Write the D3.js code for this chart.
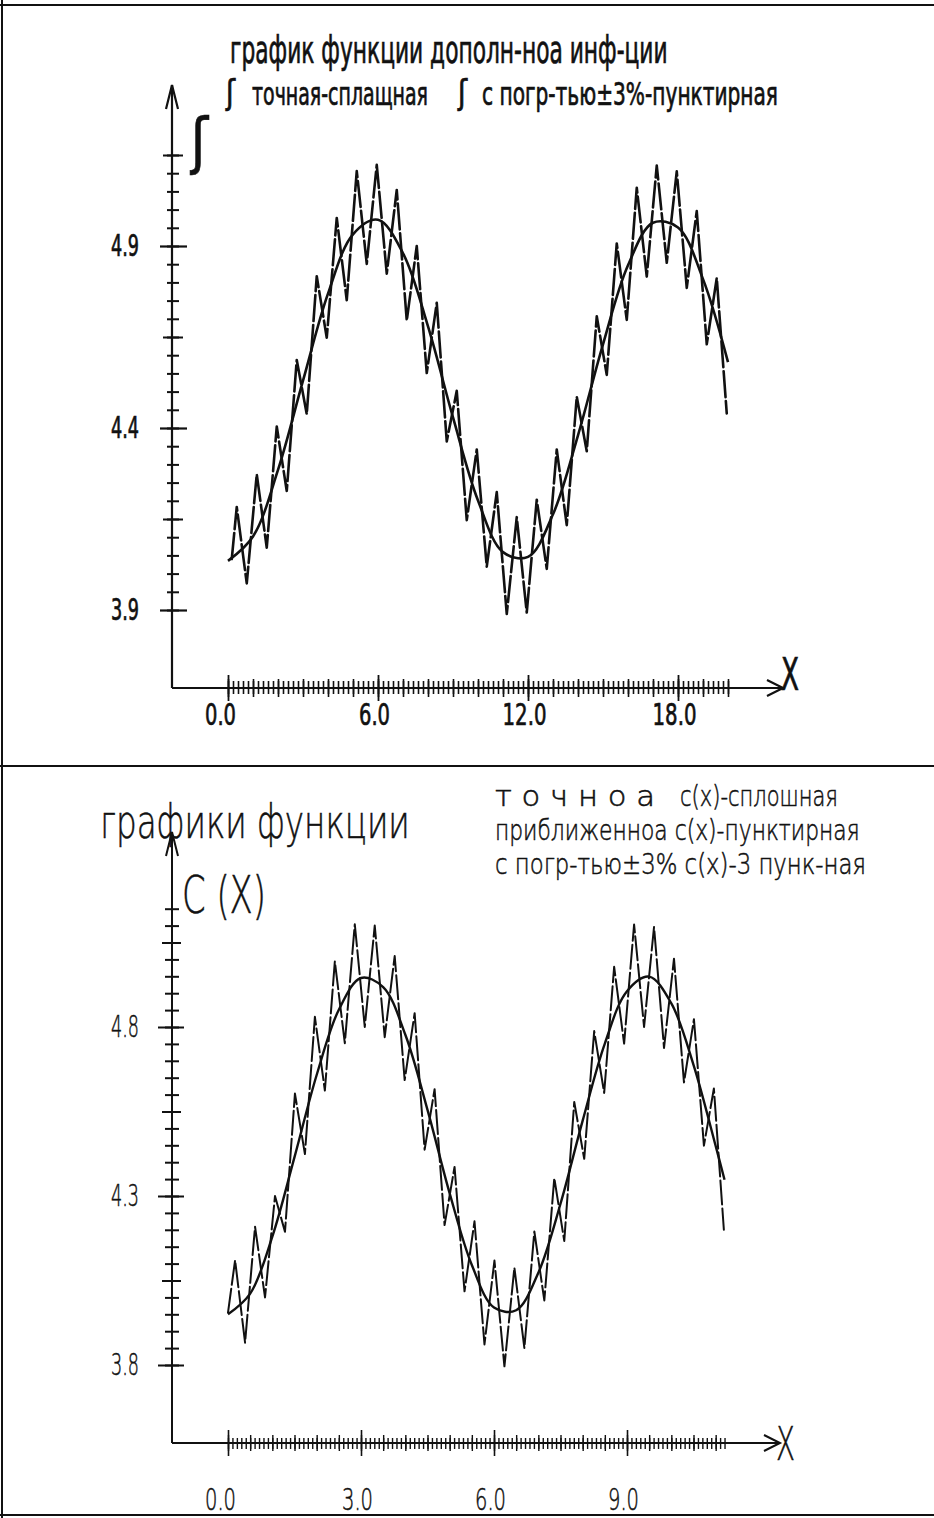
<!DOCTYPE html>
<html>
<head>
<meta charset="utf-8">
<script src="https://cdn.jsdelivr.net/npm/d3@7"></script>
<style>
  body { margin: 0; background: #fff; }
  svg { display: block; }
  text { font-family: "DejaVu Sans Condensed", "DejaVu Sans", sans-serif; fill: #111; }
  .bold text { stroke: #111; stroke-width: 0.7; }
  .thin text { font-family: "DejaVu Sans", sans-serif; font-weight: 200; stroke: #111; stroke-width: 0.55; }
</style>
</head>
<body>
<div id="chart"></div>
<script>
var svgWidth = 934;
var svgHeight = 1518;

// ---- top panel data: f(x) exact and f with +-3% error ----
var topExactX = [0, 1, 2, 3, 4, 5, 6, 7, 8, 9, 10, 11, 12, 13, 14, 15, 16, 17, 18, 19, 20];
var topExactF = [4.035, 4.102, 4.285, 4.530, 4.769, 4.932, 4.972, 4.880, 4.679, 4.429, 4.201,
  4.059, 4.046, 4.163, 4.380, 4.630, 4.847, 4.964, 4.951, 4.809, 4.581];

var topNoisyX = [0.15, 0.35, 0.75, 1.15, 1.55, 1.95, 2.35, 2.75, 3.15, 3.55, 3.95, 4.35, 4.75,
  5.15, 5.55, 5.95, 6.35, 6.75, 7.15, 7.55, 7.95, 8.35, 8.75, 9.15, 9.55, 9.95, 10.35, 10.75,
  11.15, 11.55, 11.95, 12.35, 12.75, 13.15, 13.55, 13.95, 14.35, 14.75, 15.15, 15.55, 15.95,
  16.35, 16.75, 17.15, 17.55, 17.95, 18.35, 18.75, 19.15, 19.55, 19.95];
var topNoisyF = [4.04, 4.183, 3.973, 4.273, 4.071, 4.404, 4.227, 4.587, 4.438, 4.817, 4.648,
  4.977, 4.751, 5.106, 4.851, 5.123, 4.824, 5.054, 4.695, 4.900, 4.551, 4.744, 4.363, 4.502,
  4.147, 4.341, 4.019, 4.224, 3.889, 4.155, 3.893, 4.203, 4.013, 4.341, 4.133, 4.486, 4.336,
  4.707, 4.546, 4.907, 4.697, 5.060, 4.816, 5.121, 4.854, 5.105, 4.785, 4.996, 4.630, 4.812, 4.440];

var topXTicks = [0, 6, 12, 18];
var topYTicks = [3.9, 4.4, 4.9];

// ---- bottom panel data: c(x) exact and c(x) with +-3% error ----
var botExactX = [0, 0.5, 1, 1.5, 2, 2.5, 3, 3.5, 4, 4.5, 5, 5.5, 6, 6.5, 7, 7.5, 8, 8.5, 9,
  9.5, 10, 10.5, 11, 11.2];
var botExactC = [3.950, 4.011, 4.180, 4.415, 4.658, 4.851, 4.945, 4.918, 4.777, 4.555, 4.308,
  4.096, 3.970, 3.962, 4.073, 4.277, 4.523, 4.751, 4.906, 4.949, 4.870, 4.688, 4.448, 4.348];

var botNoisyX = [0, 0.16, 0.385, 0.61, 0.835, 1.06, 1.285, 1.51, 1.735, 1.96, 2.185, 2.41,
  2.635, 2.86, 3.085, 3.31, 3.535, 3.76, 3.985, 4.21, 4.435, 4.66, 4.885, 5.11, 5.335, 5.56,
  5.785, 6.01, 6.235, 6.46, 6.685, 6.91, 7.135, 7.36, 7.585, 7.81, 8.035, 8.26, 8.485, 8.71,
  8.935, 9.16, 9.385, 9.61, 9.835, 10.06, 10.285, 10.51, 10.735, 10.96, 11.185];
var botNoisyC = [3.955, 4.11, 3.866, 4.209, 4.00, 4.30, 4.194, 4.603, 4.424, 4.83, 4.612, 4.994,
  4.752, 5.104, 4.80, 5.10, 4.77, 5.01, 4.643, 4.841, 4.437, 4.616, 4.214, 4.386, 4.018, 4.225,
  3.861, 4.109, 3.796, 4.088, 3.850, 4.195, 3.991, 4.353, 4.167, 4.578, 4.410, 4.788, 4.605,
  4.978, 4.751, 5.103, 4.800, 5.096, 4.738, 5.002, 4.636, 4.823, 4.449, 4.618, 4.20];

var botXTicks = [0, 3, 6, 9];
var botYTicks = [3.8, 4.3, 4.8];

var svg = d3.select("#chart")
  .append("svg")
  .attr("width", svgWidth)
  .attr("height", svgHeight);

svg.append("rect").attr("width", svgWidth).attr("height", svgHeight).attr("fill", "#fff");

// page frame
var frame = [[0, 5, 934, 5], [2, 0, 2, 1518], [0, 766, 934, 766], [0, 1515, 934, 1515]];
svg.selectAll(".frame").data(frame).enter().append("line")
  .attr("x1", d => d[0]).attr("y1", d => d[1]).attr("x2", d => d[2]).attr("y2", d => d[3])
  .attr("stroke", "#111").attr("stroke-width", 2);

// scales
var xTop = d3.scaleLinear().domain([0, 20]).range([228, 728]);
var yTop = d3.scaleLinear().domain([3.9, 4.9]).range([610, 246]);
var xBot = d3.scaleLinear().domain([0, 3]).range([228, 361]);
var yBot = d3.scaleLinear().domain([3.8, 4.8]).range([1365, 1027]);

// ticks that cross an axis line: one axis on each side
function crossTicks(parent, scale, values, vertical, pos, before, after, width) {
  var a = vertical ? d3.axisLeft(scale) : d3.axisTop(scale);
  var b = vertical ? d3.axisRight(scale) : d3.axisBottom(scale);
  [[a, before], [b, after]].forEach(function (p) {
    var g = parent.append("g")
      .attr("transform", vertical ? `translate(${pos},0)` : `translate(0,${pos})`)
      .call(p[0].tickValues(values).tickSize(p[1]).tickFormat(""));
    g.select(".domain").remove();
    g.selectAll("line").attr("stroke", "#111").attr("stroke-width", width);
  });
}

function tickRange(lo, hi, n) {
  return d3.range(Math.round(lo * n), Math.round(hi * n) + 1).map(i => i / n);
}

// squeeze a text horizontally to a wanted width (plotter letters are narrow)
function squeeze(sel, w, tx, ty) {
  sel.each(function () {
    var n = this.getComputedTextLength();
    d3.select(this).attr("x", 0).attr("y", 0)
      .attr("transform", `translate(${tx},${ty}) scale(${(w / n).toFixed(3)},1)`);
  });
}

function label(parent, str, size, x, y, w) {
  var t = parent.append("text").attr("font-size", size).text(str);
  squeeze(t, w, x, y);
  return t;
}

function axisLines(g, ox, oy, topY, rightX, w) {
  g.append("line").attr("x1", ox).attr("y1", oy).attr("x2", ox).attr("y2", topY)
    .attr("stroke", "#111").attr("stroke-width", w);
  g.append("line").attr("x1", ox).attr("y1", oy).attr("x2", rightX).attr("y2", oy)
    .attr("stroke", "#111").attr("stroke-width", w);
  // arrow heads
  g.append("path").attr("d", `M${ox - 6},${topY + 24} L${ox},${topY} L${ox + 6},${topY + 24}`)
    .attr("fill", "none").attr("stroke", "#111").attr("stroke-width", w);
  g.append("path").attr("d", `M${rightX - 16},${oy - 8} L${rightX},${oy} L${rightX - 16},${oy + 8}`)
    .attr("fill", "none").attr("stroke", "#111").attr("stroke-width", w);
}

function yLabels(parent, scale, values, pos) {
  var g = parent.append("g").attr("transform", `translate(${pos},0)`)
    .call(d3.axisLeft(scale).tickValues(values).tickSize(0).tickPadding(33).tickFormat(d3.format(".1f")));
  g.select(".domain").remove();
  g.selectAll("text").attr("font-size", 30);
  squeeze(g.selectAll("text"), 28, -33, 0);
}

function xLabels(parent, scale, values, pos, pad) {
  var g = parent.append("g").attr("transform", `translate(0,${pos})`)
    .call(d3.axisBottom(scale).tickValues(values).tickSize(0).tickFormat(d3.format(".1f")));
  g.select(".domain").remove();
  g.selectAll("text").attr("font-size", 30).each(function (d) {
    var n = this.getComputedTextLength();
    var w = d < 10 ? 31 : 44;
    var shift = d === 0 ? -8 : -4;
    d3.select(this).attr("x", 0).attr("y", 0)
      .attr("transform", `translate(${shift},${pad}) scale(${(w / n).toFixed(3)},1)`);
  });
}

// ================= TOP PANEL =================
var topG = svg.append("g").attr("class", "bold");

axisLines(topG, 172, 688, 85, 783, 2.2);

// y ticks
crossTicks(topG, yTop, tickRange(3.9, 5.15, 20), true, 172, 5, 7, 2);
crossTicks(topG, yTop, [4.15, 4.65, 5.15], true, 172, 9, 11, 2);
crossTicks(topG, yTop, topYTicks, true, 172, 12, 15, 2.2);
// x ticks
crossTicks(topG, xTop, tickRange(0, 20, 5), false, 688, 7, 6, 1.6);
crossTicks(topG, xTop, tickRange(0, 20, 1), false, 688, 9, 9, 1.6);
crossTicks(topG, xTop, topXTicks, false, 688, 13, 13, 1.8);

yLabels(topG, yTop, topYTicks, 172);
xLabels(topG, xTop, topXTicks, 688, 16);

// curves
topG.append("path")
  .datum(d3.zip(topExactX, topExactF))
  .attr("d", d3.line().x(d => xTop(d[0])).y(d => yTop(d[1])).curve(d3.curveCatmullRom))
  .attr("fill", "none").attr("stroke", "#111").attr("stroke-width", 2.6);
topG.append("path")
  .datum(d3.zip(topNoisyX, topNoisyF))
  .attr("d", d3.line().x(d => xTop(d[0])).y(d => yTop(d[1])))
  .attr("fill", "none").attr("stroke", "#111").attr("stroke-width", 2.6)
  .attr("stroke-dasharray", "26,4").attr("stroke-linejoin", "round").attr("stroke-linecap", "round");

// texts
label(topG, "график функции дополн-ноа инф-ции", 39, 230, 63, 438);
label(topG, "ʃ", 34, 226, 104, 9);
label(topG, "точная-сплащная", 32, 252, 105, 176);
label(topG, "ʃ", 34, 458, 104, 9);
label(topG, "с погр-тью±3%-пунктирная", 32, 482, 105, 296);
label(topG, "ʃ", 62, 191, 162, 17);
label(topG, "X", 44, 781, 690, 18);

// ================= BOTTOM PANEL =================
var botG = svg.append("g").attr("class", "thin");

axisLines(botG, 172, 1443, 832, 780, 2);

crossTicks(botG, yBot, tickRange(3.8, 5.15, 20), true, 172, 7, 7, 2);
crossTicks(botG, yBot, [4.05, 4.55, 5.05], true, 172, 10, 9, 2);
crossTicks(botG, yBot, botYTicks, true, 172, 14, 12, 2);

crossTicks(botG, xBot, tickRange(0, 11.2, 10), false, 1443, 5, 6, 1.4);
crossTicks(botG, xBot, tickRange(0, 11, 2), false, 1443, 8, 8, 1.4);
crossTicks(botG, xBot, botXTicks, false, 1443, 13, 13, 1.6);

yLabels(botG, yBot, botYTicks, 172);
xLabels(botG, xBot, botXTicks, 1443, 46);

botG.append("path")
  .datum(d3.zip(botExactX, botExactC))
  .attr("d", d3.line().x(d => xBot(d[0])).y(d => yBot(d[1])).curve(d3.curveCatmullRom))
  .attr("fill", "none").attr("stroke", "#111").attr("stroke-width", 2.4);
botG.append("path")
  .datum(d3.zip(botNoisyX, botNoisyC))
  .attr("d", d3.line().x(d => xBot(d[0])).y(d => yBot(d[1])))
  .attr("fill", "none").attr("stroke", "#111").attr("stroke-width", 2)
  .attr("stroke-dasharray", "24,4").attr("stroke-linejoin", "round").attr("stroke-linecap", "round");

label(botG, "графики функции", 46, 100, 838, 310);
label(botG, "C (X)", 52, 182, 913, 84);
label(botG, "т о ч н о а", 29, 495, 806, 160);
label(botG, "c(x)-сплошная", 29, 680, 806, 158);
label(botG, "приближенноа c(x)-пунктирная", 29, 495, 840, 365);
label(botG, "с погр-тью±3% c(x)-3 пунк-ная", 29, 495, 874, 371);
label(botG, "X", 46, 776, 1460, 19);
</script>
</body>
</html>
